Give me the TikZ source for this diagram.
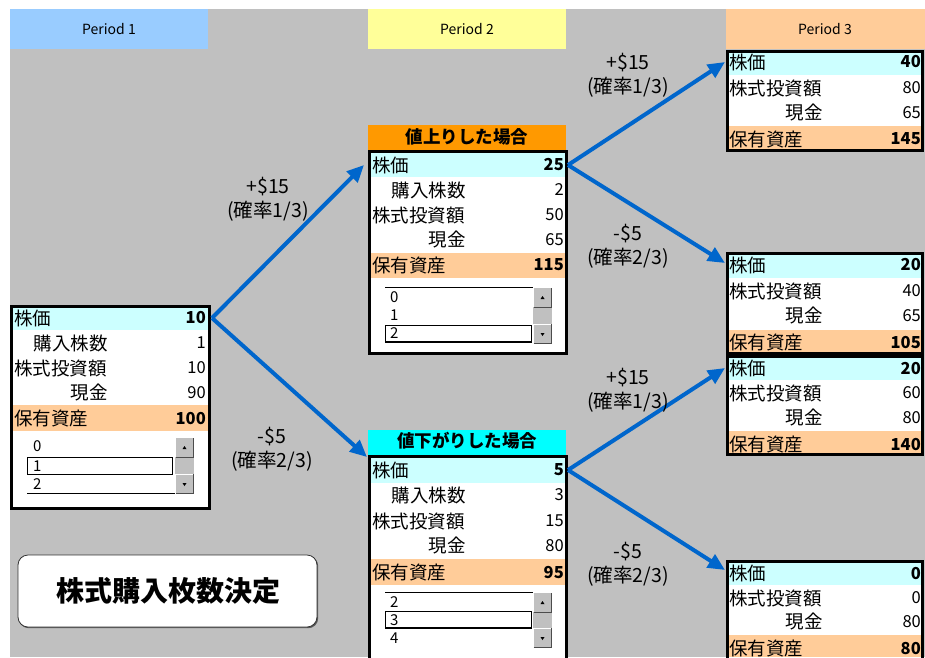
\documentclass[tikz,border=0pt]{standalone}
\usepackage{fontspec}
\setmainfont{Noto Sans CJK JP}
\usetikzlibrary{arrows.meta}
\definecolor{bggray}{HTML}{C0C0C0}
\definecolor{hblue}{HTML}{99CCFF}
\definecolor{hyellow}{HTML}{FFFF99}
\definecolor{hpeach}{HTML}{FFCC99}
\definecolor{rcyan}{HTML}{CCFFFF}
\definecolor{horange}{HTML}{FF9900}
\definecolor{hcyan}{HTML}{00FFFF}
\definecolor{arrblue}{HTML}{0066CC}
\newcommand\sbar[3]{%
  \fill[bggray] (#1,#2) rectangle (#1+19,#3);
  \draw[white,line width=1pt] (#1+0.5,#2+20) -- (#1+0.5,#2+0.5) -- (#1+18.5,#2+0.5);
  \draw[gray!60!black,line width=1pt] (#1+0.5,#2+20) -- (#1+18.5,#2+20) -- (#1+18.5,#2+0.5);
  \draw[white,line width=1pt] (#1+0.5,#3-0.5) -- (#1+0.5,#3-20) -- (#1+18.5,#3-20);
  \draw[gray!60!black,line width=1pt] (#1+0.5,#3-0.5) -- (#1+18.5,#3-0.5) -- (#1+18.5,#3-20);
  \fill[black] (#1+7.5,#2+12) -- (#1+11.5,#2+12) -- (#1+9.5,#2+9) -- cycle;
  \fill[black] (#1+7.5,#3-11) -- (#1+11.5,#3-11) -- (#1+9.5,#3-8) -- cycle;
}
\tikzset{
  lab/.style={anchor=west,inner sep=0pt,font=\fontsize{18.5}{18.5}\selectfont},
  labr/.style={anchor=east,inner sep=0pt,font=\fontsize{18.5}{18.5}\selectfont},
  val/.style={anchor=east,inner sep=0pt,font=\fontsize{16.5}{16.5}\selectfont},
  bval/.style={anchor=east,inner sep=0pt,font=\fontsize{16.5}{16.5}\selectfont\bfseries},
  item/.style={anchor=west,inner sep=0pt,font=\fontsize{15}{15}\selectfont},
  frame/.style={draw=black,line width=3pt},
  arr/.style={draw=arrblue,line width=4pt,-{Triangle[length=17pt,width=15pt]}},
  plabel/.style={align=center,inner sep=0pt,font=\fontsize{19.5}{24}\selectfont},
  period/.style={inner sep=0pt,font=\fontsize{14}{14}\selectfont},
  title/.style={inner sep=0pt,font=\fontsize{17.5}{17.5}\selectfont\bfseries},
}
\begin{document}
\begin{tikzpicture}[x=1pt,y=-1pt]
\useasboundingbox (0,0) rectangle (925,657);
\fill[white] (0,0) rectangle (925,657);
\fill[bggray] (10,9) rectangle (925,657);
% period headers
\fill[hblue] (10,9) rectangle (208,49);
\fill[hyellow] (368,9) rectangle (566,49);
\fill[hpeach] (726,9) rectangle (925,49);
\node[period] (p1) at (109,29) {Period 1};
\node[period] (p2) at (467,29) {Period 2};
\node[period] (p3) at (825,29) {Period 3};

% ---------- left box ----------
\fill[white] (10,305) rectangle (211,510);
\fill[rcyan] (12,307) rectangle (209,330);
\fill[hpeach] (12,405) rectangle (209,431);
\node[lab] (l1) at (14,318) {株価};
\node[bval] (l1v) at (206,318) {10};
\node[labr] (l2) at (108,343) {購入株数};
\node[val] (l2v) at (206,343) {1};
\node[lab] (l3) at (14,368) {株式投資額};
\node[val] (l3v) at (206,368) {10};
\node[labr] (l4) at (108,393) {現金};
\node[val] (l4v) at (206,393) {90};
\node[lab] (l5) at (14,418) {保有資産};
\node[bval] (l5v) at (206,418) {100};
\draw[line width=0.8pt] (27,493) -- (175,493);
\node[item] (li0) at (33,446) {0};
\node[item] (li1) at (33,466) {1};
\node[item] (li2) at (33,484) {2};
\draw[line width=1.6pt] (27.5,457.5) rectangle (172.5,474.5);
\sbar{175}{437}{494}
\draw[frame] (11.5,306.5) rectangle (209.5,508.5);

% ---------- middle top box ----------
\fill[horange] (368,125) rectangle (566,150);
\node[title] (t1) at (467,137) {値上りした場合};
\fill[white] (368,150) rectangle (568,355);
\fill[rcyan] (370,153) rectangle (566,177);
\fill[hpeach] (370,253) rectangle (566,278);
\node[lab] (u1) at (372,165) {株価};
\node[bval] (u1v) at (564,165) {25};
\node[labr] (u2) at (466,190) {購入株数};
\node[val] (u2v) at (564,190) {2};
\node[lab] (u3) at (372,215) {株式投資額};
\node[val] (u3v) at (564,215) {50};
\node[labr] (u4) at (466,240) {現金};
\node[val] (u4v) at (564,240) {65};
\node[lab] (u5) at (372,265) {保有資産};
\node[bval] (u5v) at (564,265) {115};
\draw[line width=0.8pt] (385,287) -- (533,287);
\node[item] (ui0) at (390,297) {0};
\node[item] (ui1) at (390,315) {1};
\node[item] (ui2) at (390,333) {2};
\draw[line width=1.6pt] (385.5,325.5) rectangle (531.5,342);
\sbar{533}{287}{344}
\draw[frame] (369.5,151.5) rectangle (566.5,353.5);

% ---------- middle bottom box ----------
\fill[hcyan] (368,430) rectangle (566,455);
\node[title] (t2) at (467,441) {値下がりした場合};
\fill[white] (368,455) rectangle (568,657);
\fill[rcyan] (370,458) rectangle (566,483);
\fill[hpeach] (370,559) rectangle (566,585);
\node[lab] (d1) at (372,470) {株価};
\node[bval] (d1v) at (564,470) {5};
\node[labr] (d2) at (466,495) {購入株数};
\node[val] (d2v) at (564,495) {3};
\node[lab] (d3) at (372,521) {株式投資額};
\node[val] (d3v) at (564,521) {15};
\node[labr] (d4) at (466,546) {現金};
\node[val] (d4v) at (564,546) {80};
\node[lab] (d5) at (372,572) {保有資産};
\node[bval] (d5v) at (564,572) {95};
\draw[line width=0.8pt] (385,592) -- (533,592);
\node[item] (di0) at (390,602) {2};
\node[item] (di1) at (390,620) {3};
\node[item] (di2) at (390,638) {4};
\draw[line width=1.6pt] (385.5,611.5) rectangle (531.5,628);
\sbar{533}{592}{648}
\draw[frame] (369.5,660) -- (369.5,456.5) -- (566.5,456.5) -- (566.5,660);

% ---------- right box A ----------
\fill[white] (726,50) rectangle (924,152);
\fill[rcyan] (728,52) rectangle (922,75);
\fill[hpeach] (728,126) rectangle (922,150);
\node[lab] (a1) at (729,62) {株価};
\node[bval] (a1v) at (921,62) {40};
\node[lab] (a2) at (729,88) {株式投資額};
\node[val] (a2v) at (921,88) {80};
\node[labr] (a3) at (823,113) {現金};
\node[val] (a3v) at (921,113) {65};
\node[lab] (a4) at (729,139) {保有資産};
\node[bval] (a4v) at (921,139) {145};
\draw[frame] (727.5,51.5) rectangle (922.5,150.5);

% ---------- right box B ----------
\fill[white] (726,252) rectangle (924,355);
\fill[rcyan] (728,255) rectangle (922,278);
\fill[hpeach] (728,330) rectangle (922,352);
\node[lab] (b1) at (729,265) {株価};
\node[bval] (b1v) at (921,265) {20};
\node[lab] (b2) at (729,291) {株式投資額};
\node[val] (b2v) at (921,291) {40};
\node[labr] (b3) at (823,316) {現金};
\node[val] (b3v) at (921,316) {65};
\node[lab] (b4) at (729,342) {保有資産};
\node[bval] (b4v) at (921,342) {105};
\draw[frame] (727.5,253.5) rectangle (922.5,353.5);

% ---------- right box C ----------
\fill[white] (726,355) rectangle (924,456);
\fill[rcyan] (728,357) rectangle (922,380);
\fill[hpeach] (728,431) rectangle (922,453);
\node[lab] (c1) at (729,368) {株価};
\node[bval] (c1v) at (921,368) {20};
\node[lab] (c2) at (729,393) {株式投資額};
\node[val] (c2v) at (921,393) {60};
\node[labr] (c3) at (823,418) {現金};
\node[val] (c3v) at (921,418) {80};
\node[lab] (c4) at (729,444) {保有資産};
\node[bval] (c4v) at (921,444) {140};
\draw[frame] (727.5,356) rectangle (922.5,454.5);

% ---------- right box D ----------
\fill[white] (726,560) rectangle (924,657);
\fill[rcyan] (728,562) rectangle (922,585);
\fill[hpeach] (728,635) rectangle (922,657);
\node[lab] (e1) at (729,573) {株価};
\node[bval] (e1v) at (921,573) {0};
\node[lab] (e2) at (729,598) {株式投資額};
\node[val] (e2v) at (921,598) {0};
\node[labr] (e3) at (823,622) {現金};
\node[val] (e3v) at (921,622) {80};
\node[lab] (e4) at (729,648) {保有資産};
\node[bval] (e4v) at (921,648) {80};
\draw[frame] (727.5,660) -- (727.5,561.5) -- (922.5,561.5) -- (922.5,660);

% ---------- arrows ----------
\coordinate (sL) at (212,318);
\coordinate (tU) at (364,165);
\coordinate (tD) at (367,457);
\coordinate (sU) at (568,165);
\coordinate (sD) at (568,470);
\coordinate (tA) at (725,62);
\coordinate (tB) at (725,263);
\coordinate (tC) at (725,368);
\coordinate (tE) at (725,570);
\draw[arr] (sL) -- (tU);
\draw[arr] (sL) -- (tD);
\draw[arr] (sU) -- (tA);
\draw[arr] (sU) -- (tB);
\draw[arr] (sD) -- (tC);
\draw[arr] (sD) -- (tE);

% ---------- arrow labels ----------
\node[plabel] (q1) at (268,199) {+\$15\\(確率1/3)};
\node[plabel] (q2) at (272,449) {-\$5\\(確率2/3)};
\node[plabel] (q3) at (628,75) {+\$15\\(確率1/3)};
\node[plabel] (q4) at (628,246) {-\$5\\(確率2/3)};
\node[plabel] (q5) at (628,390) {+\$15\\(確率1/3)};
\node[plabel] (q6) at (628,564) {-\$5\\(確率2/3)};

% ---------- button ----------
\fill[gray!70!black,rounded corners=10pt] (18.8,556.2) rectangle (318.2,628.2);
\draw[fill=white,draw=black!80,line width=0.8pt,rounded corners=10pt] (18,555) rectangle (317,627);
\node[inner sep=0pt,font=\fontsize{28}{28}\selectfont\bfseries] (btn) at (168,591) {株式購入枚数決定};
\end{tikzpicture}
\end{document}
